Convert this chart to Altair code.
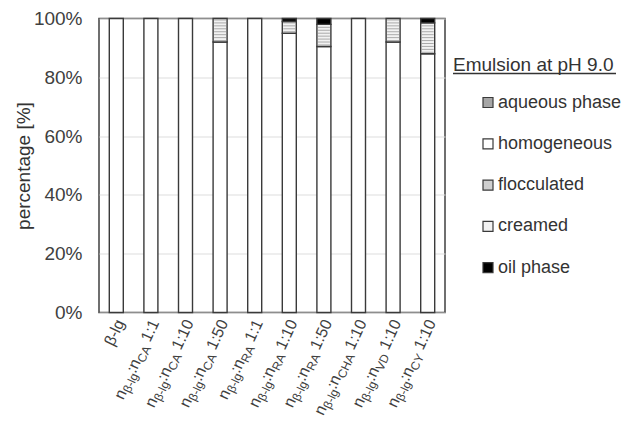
import altair as alt
import pandas as pd

# ---- data ----
categories = ["β-lg", "CA 1:1", "CA 1:10", "CA 1:50", "RA 1:1", "RA 1:10",
              "RA 1:50", "CHA 1:10", "VD 1:10", "CY 1:10"]
sub_labels = ["", "CA", "CA", "CA", "RA", "RA", "RA", "CHA", "VD", "CY"]
ratios = ["", "1:1", "1:10", "1:50", "1:1", "1:10", "1:50", "1:10", "1:10", "1:10"]

phases = ["aqueous phase", "homogeneous", "flocculated", "creamed", "oil phase"]
phase_colors = ["#a6a6a6", "#ffffff", "#cfcfcf", "#f2f2f2", "#000000"]
stack_order = [0, 1, 2, 3, 4]

aqueous = [0, 0, 0, 0, 0, 0, 0, 0, 0, 0]
homogeneous = [100, 100, 100, 92, 100, 95, 90.5, 100, 92, 88]
flocculated = [0, 0, 0, 0, 0, 0, 0, 0, 0, 0]
creamed = [0, 0, 0, 8, 0, 4, 7.5, 0, 8, 10.5]
oil = [0, 0, 0, 0, 0, 1, 2, 0, 0, 1.5]

W, H = 346, 294
FONT = "Liberation Sans, Arial, sans-serif"
TXT = "#404040"
DARK = "#333333"

series = {"aqueous phase": aqueous, "homogeneous": homogeneous,
          "flocculated": flocculated, "creamed": creamed, "oil phase": oil}
rows = []
for p_i, p in enumerate(phases):
    for c, v in zip(categories, series[p]):
        if v > 0:
            rows.append({"cat": c, "phase": p, "value": v, "ord": stack_order[p_i]})
bars_df = pd.DataFrame(rows)

# horizontal hatch lines inside the creamed segments (1 % apart)
stripes = []
for c, h, cr in zip(categories, homogeneous, creamed):
    k = 0.5
    while k < cr:
        stripes.append({"cat": c, "y": h + k})
        k += 1.0
stripe_df = pd.DataFrame(stripes)

xscale = alt.Scale(domain=categories, paddingInner=0, paddingOuter=0)


def xenc():
    return alt.X("cat:N", scale=xscale, sort=categories,
                 axis=alt.Axis(labels=False, ticks=False, domain=False, title=None, grid=False))


bars = alt.Chart(bars_df).mark_bar(size=14, stroke="#3a3a3a", strokeWidth=1.4).encode(
    x=xenc(),
    y=alt.Y("value:Q", stack="zero",
            scale=alt.Scale(domain=[0, 100], nice=False),
            axis=alt.Axis(values=[0, 20, 40, 60, 80, 100], labelExpr="datum.value + '%'",
                          title="percentage [%]", labelFontSize=19, titleFontSize=19,
                          labelColor=TXT, titleColor=DARK, labelFont=FONT, titleFont=FONT,
                          titleFontWeight="normal", labelPadding=17, titlePadding=0,
                          ticks=False, domain=False, gridColor="#dddddd", gridWidth=1)),
    color=alt.Color("phase:N", scale=alt.Scale(domain=phases, range=phase_colors),
                    legend=alt.Legend(
                        title="Emulsion at pH 9.0",
                        orient="none", legendX=354, legendY=37, padding=0,
                        titleFontSize=19, titleFont=FONT, titleColor=DARK,
                        titleFontWeight="normal", titlePadding=19,
                        labelFontSize=18, labelFont=FONT, labelColor=DARK,
                        symbolType="square", symbolSize=100, symbolOffset=26,
                        symbolStrokeColor="#3a3a3a", symbolStrokeWidth=1.2,
                        rowPadding=23.3, labelOffset=1, labelLimit=200)),
    order=alt.Order("ord:Q"),
)

hatch = alt.Chart(stripe_df).mark_tick(orient="horizontal", thickness=1, size=12,
                                       color="#8c8c8c").encode(
    x=xenc(), y=alt.Y("y:Q"))

# underline of the legend title
underline = alt.Chart(pd.DataFrame({"u": [0]})).mark_rule(
    color=DARK, strokeWidth=1.3).encode(
    x=alt.value(354), x2=alt.value(517), y=alt.value(55))

# ---- category labels with subscripts ----
CW = {'n': 556, ':': 278, ' ': 278, '1': 556, '0': 556, '5': 556, 'C': 722, 'A': 667,
      'R': 722, 'H': 722, 'V': 667, 'D': 722, 'Y': 667, 'β': 575, '-': 333, 'l': 222, 'g': 556}


def tw(s, size):
    return sum(CW[ch] for ch in s) / 1000.0 * size


F, S, SUBDY = 16, 12, 4.5
label_layers = []
for i, c in enumerate(categories):
    if i == 0:
        pieces = [("β-lg", F, 0)]
    else:
        pieces = [("n", F, 0), ("β-lg", S, SUBDY), (":", F, 0), ("n", F, 0),
                  (sub_labels[i], S, SUBDY), (" " + ratios[i], F, 0)]
    off = 0.0
    for text, size, dy in reversed(pieces):
        df = pd.DataFrame({"cat": [c], "t": [text]})
        label_layers.append(
            alt.Chart(df).mark_text(angle=295, align="right", baseline="middle",
                                    dx=-off, dy=dy, fontSize=size, font=FONT,
                                    color=TXT, xOffset=4).encode(
                x=xenc(), y=alt.value(H + 8), text="t:N"))
        off += tw(text, size)

chart = alt.layer(bars, hatch, underline, *label_layers).properties(
    width=W, height=H,
    autosize=alt.AutoSizeParams(type="none"),
    padding={"left": 91, "top": 10.5, "right": 179, "bottom": 110},
).configure_view(stroke="#404040", strokeWidth=1.5).configure_axis(
    gridColor="#dddddd")

chart.save("out.html", embed_options={"renderer": "svg", "actions": False})
